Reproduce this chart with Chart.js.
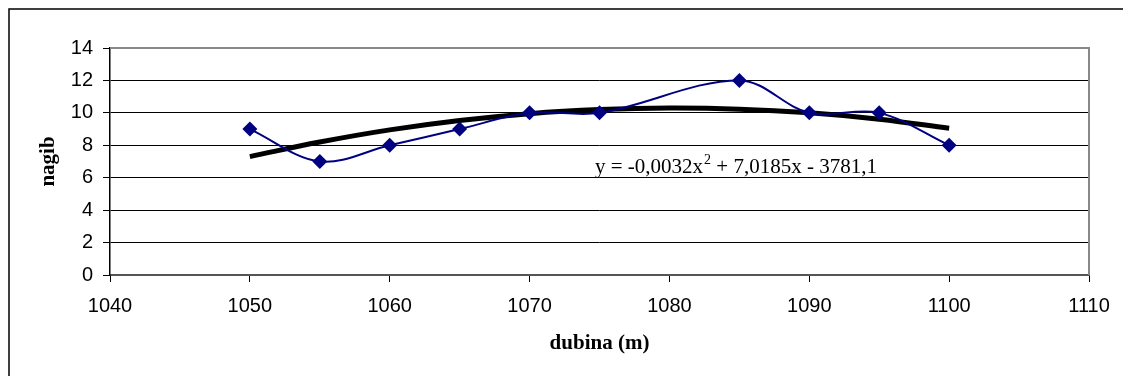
<!DOCTYPE html>
<html>
<head>
<meta charset="utf-8">
<script src="https://cdn.jsdelivr.net/npm/chart.js@4/dist/chart.umd.min.js"></script>
<style>
  html, body { margin: 0; padding: 0; background: #fff; }
  canvas { display: block; }
</style>
</head>
<body>
<canvas id="nagibChart" width="1123" height="376"></canvas>
<script>
// depth (m) and dip readings
const dubina = [1050, 1055, 1060, 1065, 1070, 1075, 1085, 1090, 1095, 1100];
const nagib = [9, 7, 8, 9, 10, 10, 12, 10, 10, 8];

// polynomial trend line
const trendX = [1050, 1055, 1060, 1065, 1070, 1075, 1080, 1085, 1090, 1095, 1100];
const trendY = [7.30, 8.20, 8.95, 9.53, 9.95, 10.20, 10.30, 10.23, 10.00, 9.61, 9.05];

const xTicks = [1040, 1050, 1060, 1070, 1080, 1090, 1100, 1110];
const yTicks = [0, 2, 4, 6, 8, 10, 12, 14];

const equation = ['y = -0,0032x', '2', ' + 7,0185x - 3781,1'];

const pts = (xs, ys) => xs.map((x, i) => ({ x: x, y: ys[i] }));

const serif = '"Liberation Serif", "Times New Roman", serif';
const sans = '"Liberation Sans", Arial, sans-serif';

// outer frame, plot border and the trend equation
const extras = {
  id: 'extras',
  afterDraw(chart) {
    const c = chart.ctx;
    const a = chart.chartArea;
    c.save();
    c.strokeStyle = '#000';
    c.lineWidth = 1.5;
    c.strokeRect(9, 9, 1300, 600);

    c.strokeStyle = '#888';
    c.lineWidth = 2;
    c.beginPath();
    c.moveTo(a.left, a.top);
    c.lineTo(a.right, a.top);
    c.lineTo(a.right, a.bottom);
    c.stroke();

    c.fillStyle = '#000';
    c.textBaseline = 'alphabetic';
    let x = 595, y = 173;
    c.font = '21px ' + serif;
    c.fillText(equation[0], x, y);
    x += c.measureText(equation[0]).width;
    c.font = '14px ' + serif;
    c.fillText(equation[1], x + 1, y - 9);
    x += c.measureText(equation[1]).width + 1;
    c.font = '21px ' + serif;
    c.fillText(equation[2], x, y);
    c.restore();
  }
};

new Chart(document.getElementById('nagibChart'), {
  type: 'scatter',
  data: {
    datasets: [
      {
        label: 'trend',
        data: pts(trendX, trendY),
        showLine: true,
        borderColor: '#000',
        borderWidth: 5,
        pointRadius: 0,
        tension: 0.4,
        order: 1
      },
      {
        label: 'nagib',
        data: pts(dubina, nagib),
        showLine: true,
        borderColor: '#000080',
        backgroundColor: '#000080',
        borderWidth: 2,
        pointStyle: 'rectRot',
        pointRadius: 7.5,
        pointBorderWidth: 0,
        tension: 0.35,
        order: 0
      }
    ]
  },
  options: {
    responsive: false,
    animation: false,
    layout: { padding: { top: 48, right: 34, left: 0, bottom: 0 } },
    plugins: {
      legend: { display: false },
      tooltip: { enabled: false }
    },
    scales: {
      x: {
        type: 'linear',
        min: 1040,
        max: 1110,
        afterFit(s) { s.height = 101; },
        afterBuildTicks(s) { s.ticks = xTicks.map(v => ({ value: v })); },
        grid: { drawOnChartArea: false, color: '#000', tickLength: 7 },
        border: { color: '#555', width: 2 },
        ticks: {
          color: '#000',
          padding: 12,
          callback: v => String(v),
          font: { family: sans, size: 20 }
        },
        title: {
          display: true,
          text: 'dubina (m)',
          color: '#000',
          padding: { top: 20, bottom: 20 },
          font: { family: serif, size: 21, weight: 'bold' }
        }
      },
      y: {
        min: 0,
        max: 14,
        afterFit(s) { s.width = 110; },
        afterBuildTicks(s) { s.ticks = yTicks.map(v => ({ value: v })); },
        grid: { color: '#000', lineWidth: 1, tickLength: 7 },
        border: { color: '#000', width: 1.5 },
        ticks: {
          color: '#000',
          padding: 10,
          callback: v => String(v),
          font: { family: sans, size: 20 }
        },
        title: {
          display: true,
          text: 'nagib',
          color: '#000',
          padding: { top: 36, bottom: 36 },
          font: { family: serif, size: 21, weight: 'bold' }
        }
      }
    }
  },
  plugins: [extras]
});
</script>
</body>
</html>
